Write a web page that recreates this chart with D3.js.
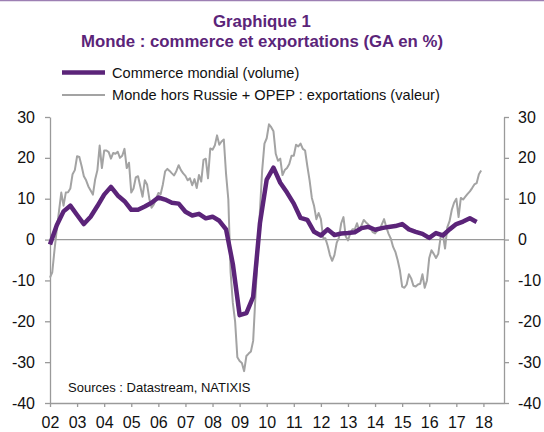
<!DOCTYPE html>
<html><head><meta charset="utf-8">
<script src="https://cdn.jsdelivr.net/npm/d3@7"></script>
<style>body{margin:0;background:#fff}svg{display:block}</style>
</head><body>
<script>
// ---- DATA ----
const titleLines = ["Graphique 1", "Monde : commerce et exportations (GA en %)"];
const seriesNames = ["Commerce mondial (volume)", "Monde hors Russie + OPEP : exportations (valeur)"];
const yearTicks = [2002,2003,2004,2005,2006,2007,2008,2009,2010,2011,2012,2013,2014,2015,2016,2017,2018];
const yTicks = [-40,-30,-20,-10,0,10,20,30];
// Commerce mondial (volume) – quarterly, starting 2002 Q1
const tradeStart = 2002, tradeStep = 0.25;
const tradeValues = [-1.2,3.5,6.9,8.3, 6.0,3.8,5.6,8.2, 11.0,12.9,10.8,9.4, 7.3,7.3,8.1,9.0,
  10.3,9.8,9.0,8.8, 6.8,5.9,6.3,5.2, 5.6,4.6,2.5,-6.0, -18.5,-18.0,-14.0,4.0,
  14.7,17.6,13.9,11.5, 8.8,5.3,4.8,1.9, 1.0,2.5,1.1,1.5, 1.6,1.8,2.8,3.1,
  2.4,2.8,3.1,3.3, 3.8,2.5,1.9,1.4, 0.4,1.6,1.0,2.5, 3.8,4.4,5.2,4.3];
// Monde hors Russie + OPEP : exportations (valeur) – monthly, starting Jan 2002
const exportStart = 2002, exportStep = 1/12;
const exportValues = [
  -9.3,-8.0,-2.5,2.5,7.0,11.5,8.3,11.5,11.6,12.5,16.0,17.0,
  20.4,20.2,18.0,15.5,14.5,13.0,12.0,11.0,14.7,17.0,23.0,17.5,
  21.8,21.8,21.4,19.8,21.2,21.0,21.5,20.0,20.5,22.2,17.5,18.8,
  11.5,12.5,15.2,15.5,13.0,10.5,14.5,13.5,10.0,7.8,8.6,10.0,
  11.4,11.1,13.5,16.7,17.3,16.8,16.2,15.7,16.8,18.2,17.0,16.2,
  15.6,14.5,15.0,13.3,14.8,12.6,15.8,14.2,19.5,19.8,15.0,22.3,
  22.0,23.0,25.5,23.2,24.0,24.5,16.0,9.8,-8.0,-15.5,-20.0,-28.8,
  -29.7,-30.2,-32.2,-28.5,-27.9,-27.4,-24.8,-14.0,-4.0,7.0,17.0,23.5,
  24.8,28.2,27.5,26.5,21.0,19.3,19.8,15.8,17.0,17.5,18.5,20.5,
  20.5,23.2,22.8,23.5,22.2,21.8,18.0,14.5,10.2,8.2,5.0,6.5,
  5.0,0.4,0.3,-1.5,-3.8,-5.2,-3.8,-0.8,0.5,4.0,5.5,0.8,
  -0.2,1.5,2.5,2.5,4.0,2.2,3.5,4.8,4.2,3.7,2.8,1.8,
  1.5,2.2,2.5,3.7,5.0,3.0,1.4,0.2,-1.8,-3.0,-5.0,-7.5,
  -11.5,-11.8,-11.0,-8.5,-9.5,-11.3,-11.5,-11.0,-10.8,-8.5,-11.8,-10.0,
  -4.5,-2.6,-3.5,-4.5,-3.5,0.5,1.5,-2.2,3.0,4.5,7.3,9.0,
  10.0,5.5,10.2,9.8,10.5,11.2,11.8,12.6,13.5,13.8,16.0,16.9];
const sourceText = "Sources : Datastream, NATIXIS";

// ---- LAYOUT ----
const W = 544, H = 432;
const purple = "#5b2479", grey = "#a3a3a3", axisCol = "#9a9a9a";
const svg = d3.select("body").append("svg").attr("width", W).attr("height", H)
  .style("font-family", "Arial, 'Liberation Sans', sans-serif");

const x = d3.scaleLinear().domain([2002, 2018.76]).range([50, 504]);
const y = d3.scaleLinear().domain([-40, 30]).range([403, 117]);

// top border
svg.append("line").attr("x1", 0).attr("x2", W).attr("y1", 0.5).attr("y2", 0.5)
  .attr("stroke", "#9d7fb3").attr("stroke-width", 1.5);

// title
svg.append("g").selectAll("text").data(titleLines).join("text")
  .attr("x", 262).attr("y", (d, i) => 27 + i * 20)
  .attr("text-anchor", "middle").attr("font-weight", "bold").attr("font-size", 16.8)
  .attr("fill", purple).text(d => d);

// legend
const leg = svg.append("g");
[{c: purple, w: 4.5}, {c: grey, w: 2}].forEach((s, i) => {
  const yy = 72.5 + i * 22.5;
  leg.append("line").attr("x1", 62).attr("x2", 105).attr("y1", yy).attr("y2", yy)
    .attr("stroke", s.c).attr("stroke-width", s.w);
  leg.append("text").attr("x", 112).attr("y", yy + 5).attr("font-size", 14.6)
    .attr("fill", "#111").text(seriesNames[i]);
});

// axes
function styleAxis(g) {
  g.select(".domain").attr("stroke", axisCol).attr("stroke-width", 1.3);
  g.selectAll(".tick line").attr("stroke", axisCol).attr("stroke-width", 1.3);
  g.selectAll(".tick text").attr("font-size", 16).attr("fill", "#111")
    .attr("font-family", "Arial, 'Liberation Sans', sans-serif");
}
const fmtY = d => String(d);
svg.append("g").attr("transform", "translate(50,0)")
  .call(d3.axisLeft(y).tickValues(yTicks).tickFormat(fmtY).tickSize(5).tickSizeOuter(0).tickPadding(10))
  .call(styleAxis);
svg.append("g").attr("transform", "translate(504,0)")
  .call(d3.axisRight(y).tickValues(yTicks).tickFormat(fmtY).tickSize(5).tickSizeOuter(0).tickPadding(9))
  .call(styleAxis);
svg.append("g").attr("transform", "translate(0,403)")
  .call(d3.axisBottom(x).tickValues(yearTicks).tickFormat(d => String(d).slice(2))
    .tickSize(4).tickSizeOuter(0).tickPadding(10))
  .call(styleAxis);

// zero line
svg.append("line").attr("x1", x(2002)).attr("x2", x(2018.76))
  .attr("y1", y(0)).attr("y2", y(0)).attr("stroke", axisCol).attr("stroke-width", 1.3);

// series
const exportData = exportValues.map((v, i) => [exportStart + i * exportStep, v]);
const tradeData = tradeValues.map((v, i) => [tradeStart + i * tradeStep, v]);
const line = d3.line().x(d => x(d[0])).y(d => y(d[1]));
svg.append("path").datum(exportData).attr("d", line).attr("fill", "none")
  .attr("stroke", grey).attr("stroke-width", 2).attr("stroke-linejoin", "round");
svg.append("path").datum(tradeData).attr("d", line).attr("fill", "none")
  .attr("stroke", purple).attr("stroke-width", 4.5).attr("stroke-linejoin", "round");

// source
svg.append("text").attr("x", 68).attr("y", 392).attr("font-size", 13)
  .attr("fill", "#111").text(sourceText);
</script>
</body></html>
